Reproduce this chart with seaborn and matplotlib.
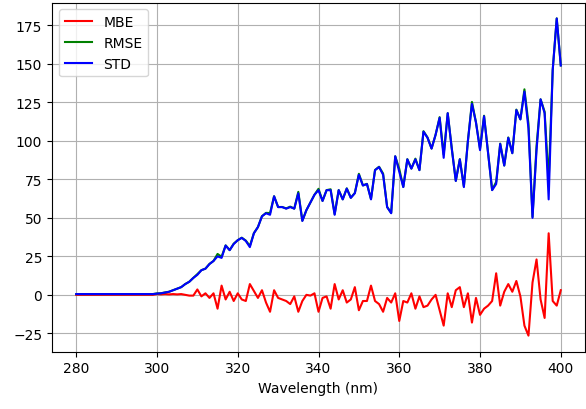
import numpy as np
import pandas as pd
import matplotlib
matplotlib.use("Agg")
import matplotlib.pyplot as plt
import seaborn as sns

# Wavelength grid, 1 nm steps
wavelength = np.arange(280, 401)

# Mean bias error per wavelength
mbe = [0.0] * 20 + [
    0.5, 0.3, 0.5, 0.3, 0.5, 0.3, 0.5, 0.0, -0.5, -0.5,      # 300-309
    3.5, -1, 1, -2, 1, -9, 6, -3, 2, -4,                     # 310-319
    1, -3, -4, 7, 2.5, -2, 3, -5, -11, 3,                    # 320-329
    -2, -3, -4, -6, -1, -11, -4, 0, -0.5, 1,                 # 330-339
    -11, -2, -1, -9, 7, -3, 3, -5, -3, 5,                    # 340-349
    -10, -4, -4, 6, -4, -6, -11, -2, -5, 1,                  # 350-359
    -17, -4, -5, 1, -9, -1, -8, -7, -3, 0,                   # 360-369
    -10, -20, 1, -8, 3, 5, -8, 1, -18, -2,                   # 370-379
    -13, -9, -7, -4, 14, -7, 2, 7, 2, 9,                     # 380-389
    -1, -20, -26.5, 8, 23, -3, -15, 40, -4, -7, 3,           # 390-400
]

# Root mean square error per wavelength
rmse = [0.5] * 20 + [
    0.94, 1.04, 1.58, 2.02, 3.04, 4.01, 5.02, 7.0, 8.51, 11.01,
    13.46, 16.03, 17.03, 20.1, 22.02, 26.57, 24.74, 32.14, 29.07, 33.24,
    35.51, 37.12, 35.23, 31.78, 40.08, 44.05, 51.09, 53.24, 53.15, 64.07,
    57.04, 57.08, 56.14, 57.31, 56.01, 66.91, 48.17, 55.0, 60.0, 65.01,
    68.88, 61.03, 68.01, 68.59, 52.47, 68.07, 62.07, 69.18, 63.07, 66.19,
    78.64, 71.11, 72.11, 62.29, 81.1, 83.22, 78.77, 57.04, 53.24, 90.01,
    81.79, 70.11, 88.14, 82.01, 88.46, 81.01, 106.3, 102.24, 95.05, 104.0,
    115.43, 91.22, 118.0, 95.34, 74.06, 88.14, 70.46, 100.0, 125.3, 112.02,
    94.89, 116.35, 92.27, 68.12, 73.35, 98.25, 84.02, 102.24, 92.02, 120.34,
    114.0, 133.51, 111.2, 50.64, 96.77, 127.04, 118.95, 73.78, 146.05, 179.6, 149.03,
]

# Standard deviation per wavelength
std = [0.5] * 20 + [
    0.8, 1, 1.5, 2, 3, 4, 5, 7, 8.5, 11,
    13, 16, 17, 20, 22, 25, 24, 32, 29, 33,
    35.5, 37, 35, 31, 40, 44, 51, 53, 52, 64,
    57, 57, 56, 57, 56, 66, 48, 55, 60, 65,
    68, 61, 68, 68, 52, 68, 62, 69, 63, 66,
    78, 71, 72, 62, 81, 83, 78, 57, 53, 90,
    80, 70, 88, 82, 88, 81, 106, 102, 95, 104,
    115, 89, 118, 95, 74, 88, 70, 100, 124, 112,
    94, 116, 92, 68, 72, 98, 84, 102, 92, 120,
    114, 132, 108, 50, 94, 127, 118, 62, 146, 179.5, 149,
]

df = pd.DataFrame({"wavelength": wavelength, "MBE": mbe, "RMSE": rmse, "STD": std})

fig = plt.figure(figsize=(5.86, 4.10), dpi=100)
ax = fig.add_axes([52 / 586, 1 - 352.5 / 410, 533 / 586, 349 / 410])

for name, color in [("MBE", "red"), ("RMSE", "green"), ("STD", "blue")]:
    sns.lineplot(data=df, x="wavelength", y=name, color=color, label=name,
                 linewidth=1.5, ax=ax)

ax.set_xticks([280, 300, 320, 340, 360, 380, 400])
ax.set_yticks([-25, 0, 25, 50, 75, 100, 125, 150, 175])
ax.set_xlabel("Wavelength (nm)")
ax.set_ylabel("")
ax.grid(True, color="#b0b0b0", linewidth=0.8)
ax.legend(loc="upper left")

fig.savefig("out.png", dpi=100)
